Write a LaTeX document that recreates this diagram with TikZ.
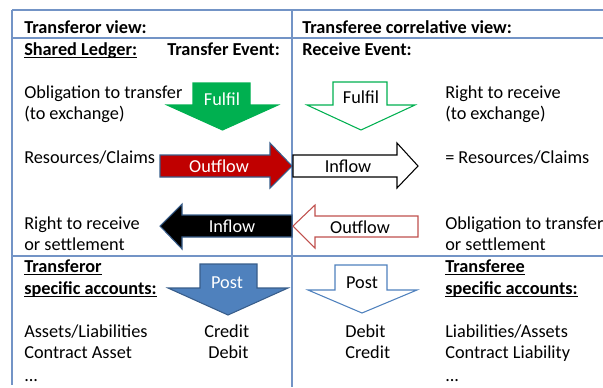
\documentclass[tikz,border=0pt]{standalone}
\usepackage{fontspec}
\setmainfont{Carlito}
\usepackage{tikz}
\definecolor{framecol}{HTML}{7394C6}
\definecolor{offgreen}{HTML}{00B050}
\definecolor{offred}{HTML}{C00000}
\definecolor{lightred}{HTML}{C0504D}
\definecolor{offblue}{HTML}{4F81BD}
\definecolor{darkblue}{HTML}{385D8A}
\newcommand{\undl}[1]{\underline{\smash{#1}}}

\begin{document}
\begin{tikzpicture}[x=0.75pt, y=-0.75pt,
	font=\fontsize{13.7}{16}\selectfont,
	frame/.style = {draw=framecol, line width=1.1pt},
	txt/.style = {anchor=base west, inner sep=0pt},
	head/.style = {txt, font=\fontsize{13.7}{16}\selectfont\bfseries},
	blk/.style = {line width=0.8pt, line join=miter},
	lbl/.style = {inner sep=0pt}]

\useasboundingbox (0,0) rectangle (603,387);

% table lines
\draw[frame] (12,10) -- (603,10);
\draw[frame] (12,38) -- (603,38);
\draw[frame] (12,256) -- (603,256);
\draw[frame] (12,10) -- (12,385);
\draw[frame] (292,10) -- (292,387);

% headings
\node (torview) [head] at (24,33) {Transferor view:};
\node (teeview) [head] at (302,33) {Transferee correlative view:};
\node (ledger) [head] at (24,55) {\undl{Shared Ledger:}};
\node (tevent) [head] at (167,55) {Transfer Event:};
\node (revent) [head] at (302,55) {Receive Event:};

% left column
\node (oblig) [txt] at (24,98) {Obligation to transfer};
\node (oblig2) [txt] at (24,119) {(to exchange)};
\node (resL) [txt] at (24,163) {Resources/Claims};
\node (rightL) [txt] at (24,229) {Right to receive};
\node (rightL2) [txt] at (24,250) {or settlement};
\node (torspec) [head] at (24,272) {\undl{Transferor}};
\node (torspec2) [head] at (24,294) {\undl{specific accounts:}};
\node (assets) [txt] at (24,337) {Assets/Liabilities};
\node (casset) [txt] at (24,358) {Contract Asset};
\node (dotsL) [txt] at (24,381) {...};
\node (creditL) [txt] at (204,337) {Credit};
\node (debitL) [txt] at (208,358) {Debit};

% right column
\node (rightR) [txt] at (445,98) {Right to receive};
\node (rightR2) [txt] at (445,119) {(to exchange)};
\node (resR) [txt] at (445,163) {= Resources/Claims};
\node (obligR) [txt] at (445,229) {Obligation to transfer};
\node (obligR2) [txt] at (445,250) {or settlement};
\node (teespec) [head] at (445,272) {\undl{Transferee}};
\node (teespec2) [head] at (445,294) {\undl{specific accounts:}};
\node (liabs) [txt] at (445,337) {Liabilities/Assets};
\node (cliab) [txt] at (445,358) {Contract Liability};
\node (dotsR) [txt] at (445,381) {...};
\node (debitR) [txt] at (345,337) {Debit};
\node (creditR) [txt] at (345,358) {Credit};

% block arrows
\draw[blk, fill=offgreen, draw=offgreen] (193,83) -- (250,83) -- (250,105) -- (278,105)
	-- (222.5,130) -- (167,105) -- (193,105) -- cycle;
\node (fulfilL) [lbl, text=white] at (222,99) {Fulfil};

\draw[blk, draw=offgreen, fill=white] (333,82) -- (387,82) -- (387,105) -- (415,105)
	-- (361,130) -- (307,105) -- (333,105) -- cycle;
\node (fulfilR) [lbl] at (361,97) {Fulfil};

\draw[blk, fill=offred, draw=darkblue] (160,155) -- (270,155) -- (270,143) -- (292,166)
	-- (270,188) -- (270,177) -- (160,177) -- cycle;
\node (outL) [lbl, text=white] at (219,166) {Outflow};

\draw[blk, draw=black, fill=white] (293,155) -- (397,155) -- (397,143) -- (418,166)
	-- (397,188) -- (397,177) -- (293,177) -- cycle;
\node (inR) [lbl] at (348,166) {Inflow};

\draw[blk, fill=black, draw=darkblue] (292,215) -- (182,215) -- (182,204) -- (160,226)
	-- (182,249) -- (182,237) -- (292,237) -- cycle;
\node (inL) [lbl, text=white] at (232,226) {Inflow};

\draw[blk, draw=lightred, fill=white] (418,216) -- (315,216) -- (315,205) -- (293,226)
	-- (315,248) -- (315,237) -- (418,237) -- cycle;
\node (outR) [lbl] at (360,227) {Outflow};

\draw[blk, fill=offblue, draw=darkblue] (200,264) -- (257,264) -- (257,288) -- (288,288)
	-- (228,315) -- (168,288) -- (200,288) -- cycle;
\node (postL) [lbl, text=white] at (227,283) {Post};

\draw[blk, draw=offblue, fill=white] (335,265) -- (387,265) -- (387,290) -- (417,290)
	-- (362,313) -- (308,290) -- (335,290) -- cycle;
\node (postR) [lbl] at (362,283) {Post};
\end{tikzpicture}
\end{document}
